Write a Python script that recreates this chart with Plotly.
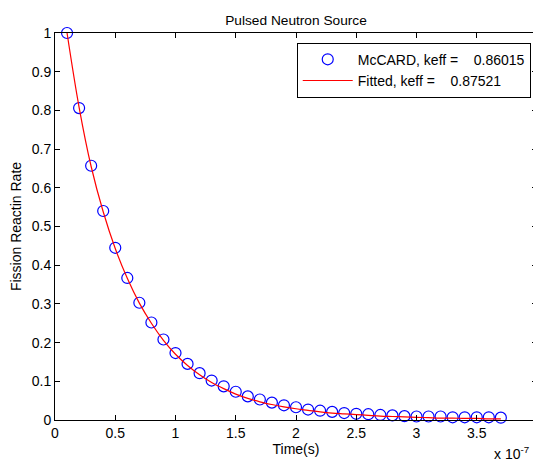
import plotly.graph_objects as go

# Data (time in seconds)
time_s = [i * 1e-8 for i in range(1, 38)]
mccard = [1.000, 0.806, 0.657, 0.540, 0.445, 0.367, 0.303, 0.252, 0.208, 0.173,
          0.145, 0.121, 0.102, 0.087, 0.073, 0.061, 0.053, 0.045, 0.038, 0.033,
          0.027, 0.024, 0.021, 0.018, 0.016, 0.015, 0.013, 0.012, 0.010, 0.009,
          0.009, 0.009, 0.007, 0.007, 0.007, 0.007, 0.006]
fitted = [1.000, 0.808, 0.655, 0.538, 0.443, 0.366, 0.302, 0.250, 0.206, 0.170,
          0.141, 0.117, 0.097, 0.081, 0.067, 0.056, 0.047, 0.040, 0.034, 0.029,
          0.025, 0.021, 0.018, 0.016, 0.014, 0.012, 0.010, 0.009, 0.008, 0.007,
          0.006, 0.005, 0.005, 0.004, 0.004, 0.003, 0.003]
x_tickvals = [0, 0.5e-7, 1e-7, 1.5e-7, 2e-7, 2.5e-7, 3e-7, 3.5e-7, 4e-7]
x_ticktext = ["0", "0.5", "1", "1.5", "2", "2.5", "3", "3.5", "4"]
y_tickvals = [0, 0.1, 0.2, 0.3, 0.4, 0.5, 0.6, 0.7, 0.8, 0.9, 1]
y_ticktext = ["0", "0.1", "0.2", "0.3", "0.4", "0.5", "0.6", "0.7", "0.8", "0.9", "1"]

font_family = "Liberation Sans, Arial, sans-serif"
FS = 14

# page body has an 8px default margin; figure sized to fit the 541x464 window
W, H = 533, 456

fig = go.Figure()
fig.add_trace(go.Scatter(
    x=time_s, y=mccard, mode="markers",
    name="McCARD, keff =    0.86015",
    marker=dict(symbol="circle-open", size=11, color="#0000ff", line=dict(width=1.2, color="#0000ff")),
    cliponaxis=False,
))
fig.add_trace(go.Scatter(
    x=time_s, y=fitted, mode="lines",
    name="Fitted, keff =    0.87521",
    line=dict(color="#ff0000", width=1.2, shape="spline"),
    cliponaxis=False,
))

axis_common = dict(
    showgrid=False, zeroline=False, showline=True, linecolor="black", linewidth=1,
    mirror="ticks", ticks="inside", ticklen=5, tickcolor="black", tickwidth=1,
    tickfont=dict(size=FS, color="black", family=font_family), automargin=False,
)
fig.update_xaxes(range=[0, 4e-7], tickvals=x_tickvals, ticktext=x_ticktext,
                 title=dict(text="Time(s)", font=dict(size=FS, color="black", family=font_family), standoff=2),
                 **axis_common)
fig.update_yaxes(range=[0, 1], tickvals=y_tickvals, ticktext=y_ticktext,
                 title=dict(text="Fission Reactin Rate", font=dict(size=FS, color="black", family=font_family), standoff=14),
                 **axis_common)

fig.update_layout(
    width=W, height=H,
    margin=dict(l=47, r=4, t=25, b=44),
    paper_bgcolor="white", plot_bgcolor="white",
    font=dict(family=font_family, size=FS, color="black"),
    title=dict(text="Pulsed Neutron Source", x=(296 - 8) / W, xanchor="center", xref="container",
               y=1 - 12.5 / H, yanchor="middle",
               font=dict(size=13.7, color="black", family=font_family)),
    showlegend=True,
    legend=dict(x=0.987, y=0.975, xanchor="right", yanchor="top",
                bgcolor="white", bordercolor="black", borderwidth=1,
                font=dict(size=FS, color="black", family=font_family),
                tracegroupgap=0, itemwidth=50),
    annotations=[dict(text="x 10<sup>-7</sup>", xref="paper", yref="paper",
                      x=0.988, y=-0.113, xanchor="right", yanchor="bottom", showarrow=False,
                      font=dict(size=FS, color="black", family=font_family))],
)

fig.write_html("out.html")
